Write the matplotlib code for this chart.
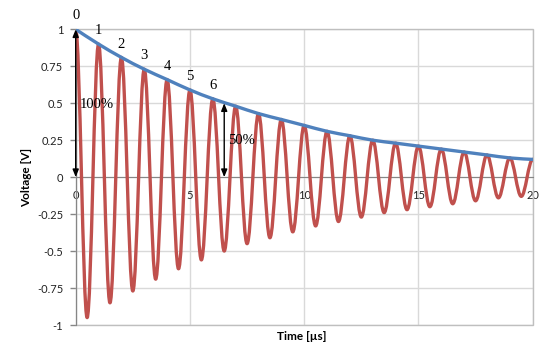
import matplotlib.pyplot as plt
import numpy as np
from matplotlib.path import Path
from matplotlib.patches import PathPatch, Rectangle

# envelope, one value per microsecond
env_t = [0, 1, 2, 3, 4, 5, 6, 7, 8, 9, 10, 11, 12, 13, 14, 15, 16, 17, 18, 19, 20]
env_v = [1.00, 0.90, 0.81, 0.73, 0.66, 0.59, 0.53, 0.48, 0.43, 0.39, 0.35,
         0.31, 0.28, 0.25, 0.23, 0.21, 0.19, 0.17, 0.15, 0.13, 0.12]

# red oscillation: peaks and troughs
peak_t = env_t
peak_v = env_v
trough_t = [0.5, 1.5, 2.5, 3.5, 4.5, 5.5, 6.5, 7.5, 8.5, 9.5,
            10.5, 11.5, 12.5, 13.5, 14.5, 15.5, 16.5, 17.5, 18.5, 19.5]
trough_v = [-0.95, -0.85, -0.77, -0.69, -0.62, -0.56, -0.50, -0.45, -0.41, -0.37,
            -0.33, -0.30, -0.27, -0.24, -0.22, -0.20, -0.18, -0.16, -0.14, -0.13]

peak_labels = ['0', '1', '2', '3', '4', '5', '6']
arrow_100 = (0, 1.00)
arrow_50 = (6.5, 0.50)

RED = '#C0504D'
BLUE = '#4F81BD'


def oscillation_path(ts, vs):
    # smooth curve through extremes, flat tangents at each extreme
    k = 1 - 2 / np.pi
    verts = [(ts[0], vs[0])]
    codes = [Path.MOVETO]
    for i in range(len(ts) - 1):
        dt = ts[i + 1] - ts[i]
        verts += [(ts[i] + k * dt, vs[i]), (ts[i + 1] - k * dt, vs[i + 1]), (ts[i + 1], vs[i + 1])]
        codes += [Path.CURVE4] * 3
    return Path(verts, codes)


def smooth_path(ts, vs):
    # catmull-rom through the points, like a smoothed excel line
    p = np.column_stack([ts, vs]).astype(float)
    p = np.vstack([p[0], p, p[-1]])
    verts = [tuple(p[1])]
    codes = [Path.MOVETO]
    for i in range(1, len(p) - 2):
        c1 = p[i] + (p[i + 1] - p[i - 1]) / 6
        c2 = p[i + 1] - (p[i + 2] - p[i]) / 6
        verts += [tuple(c1), tuple(c2), tuple(p[i + 1])]
        codes += [Path.CURVE4] * 3
    return Path(verts, codes)


ext_t, ext_v = [], []
for i in range(len(trough_t)):
    ext_t += [peak_t[i], trough_t[i]]
    ext_v += [peak_v[i], trough_v[i]]
ext_t.append(peak_t[-1])
ext_v.append(peak_v[-1])

fig = plt.figure(figsize=(5.54, 3.60), dpi=100)
ax = fig.add_axes([75.7 / 554, 1 - 325 / 360, 457 / 554, (325 - 29.3) / 360])

ax.add_patch(PathPatch(oscillation_path(ext_t, ext_v), fill=False, edgecolor=RED,
                       lw=2.4, capstyle='round', joinstyle='round', zorder=3))
ax.add_patch(PathPatch(smooth_path(env_t, env_v), fill=False, edgecolor=BLUE,
                       lw=2.4, capstyle='round', zorder=4))

ax.set_xlim(0, 20)
ax.set_ylim(-1, 1)
ax.set_xticks([0, 5, 10, 15, 20])
ax.set_yticks([-1, -0.75, -0.5, -0.25, 0, 0.25, 0.5, 0.75, 1])
ax.set_yticklabels(['-1', '-0.75', '-0.5', '-0.25', '0', '0.25', '0.5', '0.75', '1'])
ax.grid(True, color='#D9D9D9', lw=1)
ax.set_axisbelow(True)

for s in ['top', 'right']:
    ax.spines[s].set_visible(False)
ax.add_patch(Rectangle((0, 0), 1, 1, transform=ax.transAxes, fill=False,
                       edgecolor='#BFBFBF', lw=1, zorder=1, clip_on=False))
ax.spines['bottom'].set_position(('data', 0))
ax.spines['bottom'].set_color('#868686')
ax.spines['left'].set_color('#868686')
ax.spines['bottom'].set_zorder(2)

ax.tick_params(axis='y', length=4, width=1, color='#868686', pad=5,
               labelsize=8, labelcolor='#222222')
ax.tick_params(axis='x', length=0, pad=9, labelsize=8, labelcolor='#222222')
for lab in ax.get_xticklabels() + ax.get_yticklabels():
    lab.set_family('Lato')

for i, lab in enumerate(peak_labels):
    ax.text(peak_t[i], peak_v[i] + 0.09, lab, ha='center', va='center',
            fontsize=10.5, family='Liberation Serif', zorder=6)

arrow_style = dict(arrowstyle='<|-|>,head_length=0.45,head_width=0.18', color='black',
                   lw=1, shrinkA=0, shrinkB=0, mutation_scale=10)
ax.annotate('', xy=(arrow_100[0], arrow_100[1]), xytext=(arrow_100[0], 0),
            arrowprops=arrow_style, zorder=7, annotation_clip=False)
ax.annotate('', xy=(arrow_50[0], arrow_50[1]), xytext=(arrow_50[0], 0),
            arrowprops=arrow_style, zorder=7)
ax.text(0.19, 0.49, '100%', ha='left', va='center', fontsize=10.5,
        family='Liberation Serif', zorder=6)
ax.text(6.66, 0.25, '50%', ha='left', va='center', fontsize=10.5,
        family='Liberation Serif', zorder=6)

fig.text(27 / 554, 1 - 177 / 360, 'Voltage [V]', rotation=90, ha='center', va='center',
         fontsize=8.5, fontweight='bold', family='Lato')
fig.text(302 / 554, 1 - 336 / 360, 'Time [µs]', ha='center', va='center',
         fontsize=8.5, fontweight='bold', family='Lato')

fig.savefig('out.png', dpi=100)
